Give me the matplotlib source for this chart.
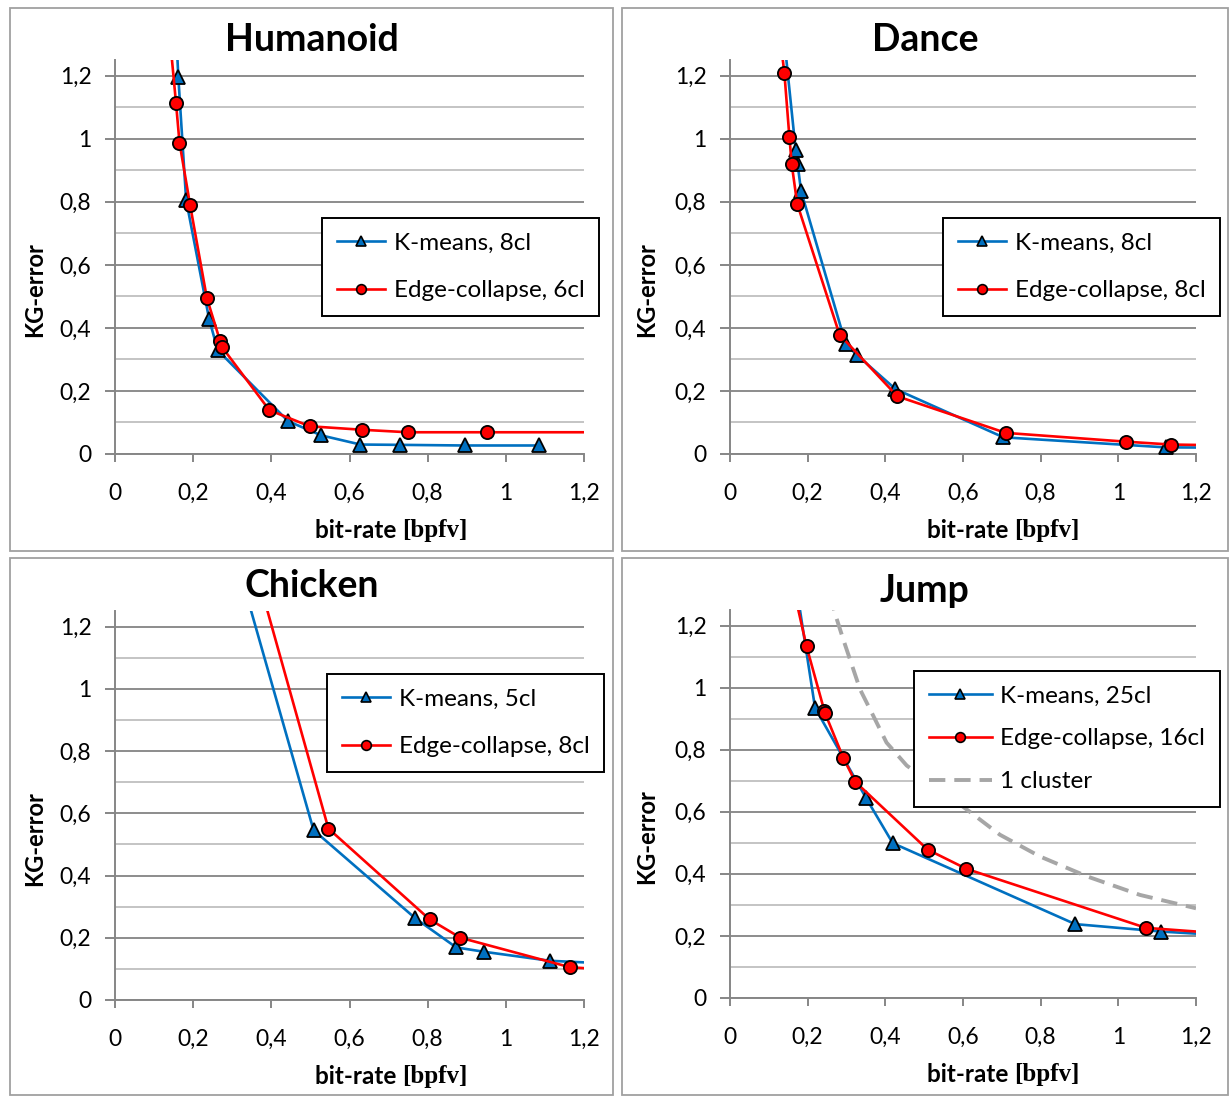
import matplotlib
matplotlib.use("Agg")
import matplotlib.pyplot as plt
from matplotlib.lines import Line2D
from matplotlib.patches import Rectangle
from matplotlib.ticker import MultipleLocator, FuncFormatter

plt.rcParams['font.family'] = ['Lato', 'DejaVu Sans']

BLUE = '#0070C0'
RED = '#FF0000'
GREY = '#A6A6A6'

# ---- data (first / last points of some series lie outside the view, lines get clipped) ----
hum_km_x = [0.158, 0.162, 0.182, 0.241, 0.263, 0.443, 0.528, 0.628, 0.729, 0.895, 1.085]
hum_km_y = [1.30, 1.196, 0.806, 0.427, 0.329, 0.104, 0.059, 0.030, 0.029, 0.027, 0.027]
hum_ec_x = [0.142, 0.156, 0.165, 0.192, 0.235, 0.269, 0.274, 0.395, 0.498, 0.631, 0.749, 0.952, 1.30]
hum_ec_y = [1.30, 1.115, 0.988, 0.791, 0.495, 0.358, 0.339, 0.139, 0.088, 0.077, 0.069, 0.069, 0.069]

dan_km_x = [0.141, 0.169, 0.174, 0.183, 0.298, 0.326, 0.426, 0.704, 1.122, 1.30]
dan_km_y = [1.30, 0.966, 0.921, 0.834, 0.349, 0.315, 0.206, 0.053, 0.021, 0.020]
dan_ec_x = [0.131, 0.140, 0.153, 0.159, 0.173, 0.282, 0.431, 0.710, 1.021, 1.135, 1.30]
dan_ec_y = [1.30, 1.209, 1.005, 0.919, 0.794, 0.379, 0.183, 0.067, 0.039, 0.030, 0.027]

chi_km_x = [0.337, 0.508, 0.768, 0.873, 0.944, 1.113, 1.30]
chi_km_y = [1.30, 0.546, 0.263, 0.169, 0.155, 0.126, 0.115]
chi_ec_x = [0.379, 0.546, 0.805, 0.884, 1.165, 1.30]
chi_ec_y = [1.30, 0.551, 0.259, 0.200, 0.105, 0.095]

jum_km_x = [0.174, 0.219, 0.350, 0.419, 0.889, 1.111, 1.30]
jum_km_y = [1.30, 0.935, 0.645, 0.499, 0.238, 0.214, 0.200]
jum_ec_x = [0.167, 0.197, 0.243, 0.245, 0.292, 0.323, 0.509, 0.609, 1.071, 1.30]
jum_ec_y = [1.30, 1.133, 0.925, 0.917, 0.773, 0.696, 0.478, 0.416, 0.226, 0.205]
jum_one_x = [0.258, 0.270, 0.292, 0.335, 0.369, 0.403, 0.455, 0.610, 0.695, 0.798, 0.919, 1.056, 1.20]
jum_one_y = [1.30, 1.240, 1.154, 0.994, 0.909, 0.823, 0.749, 0.607, 0.526, 0.456, 0.392, 0.332, 0.289]

W, H = 1232, 1097
fig = plt.figure(figsize=(W / 100, H / 100), dpi=100)


def fx(px):
    return px / W


def fy(py):
    return 1 - py / H


def comma(v, pos):
    return ('%g' % round(v, 1)).replace('.', ',')


def panel(box, axbox, title, title_y, leg_xy, series, labels, handlelen=2.0, lspace=1.1):
    x0, y0, x1, y1 = box
    fig.patches.append(Rectangle((fx(x0), fy(y1)), fx(x1 - x0), (y1 - y0) / H,
                                 transform=fig.transFigure, fill=False,
                                 edgecolor='#A0A0A0', lw=1.3))
    l, t, r, b = axbox
    ax = fig.add_axes([fx(l), fy(b), fx(r - l), (b - t) / H])
    ax.set_xlim(0, 1.2)
    ax.set_ylim(0, 1.25)
    ax.xaxis.set_major_locator(MultipleLocator(0.2))
    ax.yaxis.set_major_locator(MultipleLocator(0.2))
    ax.yaxis.set_minor_locator(MultipleLocator(0.1))
    ax.xaxis.set_major_formatter(FuncFormatter(comma))
    ax.yaxis.set_major_formatter(FuncFormatter(comma))
    ax.grid(axis='y', which='major', color='#8C8C8C', lw=1.4)
    ax.grid(axis='y', which='minor', color='#C4C4C4', lw=1.4)
    ax.set_axisbelow(True)
    for s in ['top', 'right']:
        ax.spines[s].set_visible(False)
    for s in ['left', 'bottom']:
        ax.spines[s].set_color('#868686')
        ax.spines[s].set_linewidth(1.4)
    ax.tick_params(axis='x', length=6, width=1.4, color='#868686', pad=15, labelsize=16.5)
    ax.tick_params(axis='y', which='major', length=7, width=1.4, color='#868686', pad=10, labelsize=16.5)
    ax.tick_params(axis='y', which='minor', length=0)

    handles = []
    for kind, xs, ys in series:
        if kind == 'km':
            ax.plot(xs, ys, color=BLUE, lw=1.9, marker='^', ms=9.5, mfc=BLUE,
                    mec='black', mew=1.3, zorder=3)
            handles.append(Line2D([], [], color=BLUE, lw=1.9, marker='^', ms=7,
                                  mfc=BLUE, mec='black', mew=1.2))
        elif kind == 'ec':
            ax.plot(xs, ys, color=RED, lw=1.9, marker='o', ms=9.5, mfc=RED,
                    mec='black', mew=1.3, zorder=4)
            handles.append(Line2D([], [], color=RED, lw=1.9, marker='o', ms=7,
                                  mfc=RED, mec='black', mew=1.2))
        else:
            ax.plot(xs, ys, color=GREY, lw=2.8, ls=(0, (4.2, 2.3)), zorder=2)
            handles.append(Line2D([], [], color=GREY, lw=2.8, ls=(0, (4.2, 2.3))))

    leg = ax.legend(handles, labels, loc='upper left',
                    bbox_to_anchor=(fx(leg_xy[0]), fy(leg_xy[1])),
                    bbox_transform=fig.transFigure, fontsize=17.5,
                    fancybox=False, framealpha=1, edgecolor='black',
                    borderpad=0.6, labelspacing=lspace, handlelength=handlelen,
                    handletextpad=0.35, borderaxespad=0)
    leg.get_frame().set_linewidth(1.4)
    leg.set_zorder(10)

    cx = (x0 + x1) / 2
    fig.text(fx(cx), fy(title_y), title, ha='center', va='baseline',
             fontsize=27, fontweight='bold')
    fig.text(fx(x0 + 25), fy((t + b) / 2 + 33), 'KG-error', rotation=90,
             ha='center', va='center', fontsize=17, fontweight='bold')
    split = x0 + 392
    lab_y = b + 76
    fig.text(fx(split), fy(lab_y), 'bit-rate ', ha='right', va='center',
             fontsize=17.5, fontweight='bold')
    fig.text(fx(split), fy(lab_y), '[bpfv]', ha='left', va='center',
             fontsize=18, fontweight='bold', family=['Liberation Serif', 'DejaVu Serif'])
    return ax


panel((10, 8, 613, 551), (115, 60, 584, 454), 'Humanoid', 51, (322, 218),
      [('km', hum_km_x, hum_km_y), ('ec', hum_ec_x, hum_ec_y)],
      ['K-means, 8cl', 'Edge-collapse, 6cl'])
panel((622, 8, 1228, 551), (730, 60, 1196, 454), 'Dance', 51, (943, 218),
      [('km', dan_km_x, dan_km_y), ('ec', dan_ec_x, dan_ec_y)],
      ['K-means, 8cl', 'Edge-collapse, 8cl'])
panel((10, 558, 613, 1095), (115, 611, 584, 1000), 'Chicken', 597, (327, 674),
      [('km', chi_km_x, chi_km_y), ('ec', chi_ec_x, chi_ec_y)],
      ['K-means, 5cl', 'Edge-collapse, 8cl'])
panel((622, 558, 1228, 1095), (730, 610, 1196, 998), 'Jump', 602, (914, 671),
      [('km', jum_km_x, jum_km_y), ('ec', jum_ec_x, jum_ec_y), ('one', jum_one_x, jum_one_y)],
      ['K-means, 25cl', 'Edge-collapse, 16cl', '1 cluster'], handlelen=2.6, lspace=0.9)

fig.savefig('out.png', dpi=100)
